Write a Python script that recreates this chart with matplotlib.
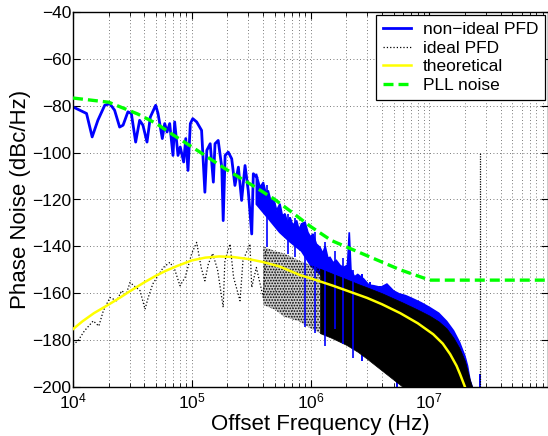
import matplotlib
matplotlib.use("Agg")
import matplotlib.pyplot as plt
import numpy as np

plt.rcParams["font.family"] = ["Liberation Sans", "DejaVu Sans"]
plt.rcParams["mathtext.fontset"] = "custom"
plt.rcParams["mathtext.rm"] = "Liberation Sans"
plt.rcParams["hatch.color"] = "black"
plt.rcParams["hatch.linewidth"] = 0.8

# non-ideal PFD, low-frequency part of the trace
blue_f = [1.0e4, 1.3e4, 1.45e4, 1.62e4, 1.85e4, 2.04e4, 2.24e4, 2.47e4, 2.64e4,
          2.9e4, 3.1e4, 3.37e4, 3.64e4, 3.88e4, 4.2e4, 4.48e4, 4.97e4, 5.2e4,
          5.65e4, 5.92e4, 6.19e4, 6.52e4, 6.95e4, 7.18e4, 7.66e4, 8.0e4, 8.55e4,
          8.9e4, 9.3e4, 9.73e4, 1.02e5, 1.1e5, 1.21e5, 1.29e5, 1.34e5, 1.43e5,
          1.52e5, 1.57e5, 1.67e5, 1.79e5, 1.84e5, 1.91e5, 2.03e5, 2.17e5, 2.31e5,
          2.47e5, 2.63e5, 2.81e5, 2.99e5, 3.2e5, 3.3e5, 3.52e5]
blue_db = [-80.5, -83.3, -93.3, -86.2, -79.8, -79.1, -81.9, -89.1, -88.3,
           -82.6, -83.3, -95.5, -86.2, -88.3, -95.5, -84.8, -79.8, -83.3,
           -94.0, -87.6, -91.2, -87.6, -101.2, -86.9, -101.2, -97.6, -104.0,
           -94.0, -107.6, -87.6, -85.5, -86.9, -90.5, -116.9, -99.0, -96.2,
           -112.6, -96.2, -94.8, -106.2, -129.0, -101.2, -99.8, -102.6, -114.0,
           -106.2, -120.4, -105.5, -116.2, -134.7, -109.0, -110.5]

# non-ideal PFD, dense part: upper edge
blue_hi_f = [3.5e5, 3.76e5, 4.01e5, 4.2e5, 4.41e5, 4.65e5, 4.86e5, 5.19e5, 5.53e5,
             5.8e5, 6.1e5, 6.4e5, 6.72e5, 7.1e5, 7.65e5, 8.0e5, 8.4e5, 9.0e5,
             9.5e5, 1.0e6, 1.05e6, 1.12e6, 1.2e6, 1.27e6, 1.33e6, 1.4e6, 1.46e6,
             1.55e6, 1.65e6, 1.78e6, 1.9e6, 2.05e6, 2.12e6, 2.19e6, 2.35e6,
             2.5e6, 2.8e6, 3.1e6, 3.4e6, 3.9e6, 4.4e6, 5.0e6, 5.6e6, 6.3e6,
             7.0e6, 8.5e6, 1.0e7, 1.2e7, 1.4e7, 1.6e7, 1.8e7, 2.0e7, 2.1e7,
             2.2e7, 2.3e7]
blue_hi = [-109.0, -114.7, -112.6, -117.0, -116.2, -121.0, -119.0, -124.7,
           -121.8, -127.0, -126.1, -130.0, -127.6, -131.0, -129.0, -133.0,
           -130.4, -129.7, -134.0, -136.0, -134.7, -139.0, -140.4, -143.0,
           -140.0, -145.0, -144.7, -147.0, -146.0, -148.2, -149.0, -148.0,
           -134.0, -150.0, -153.0, -152.0, -153.9, -156.5, -156.8, -157.5,
           -156.1, -159.0, -160.3, -161.0, -162.0, -164.0, -166.0, -168.5,
           -172.0, -176.0, -181.0, -187.0, -191.0, -197.0, -200.0]
# non-ideal PFD, dense part: lower edge
blue_lo_f = [3.5e5, 4.4e5, 5.5e5, 6.7e5, 8.4e5, 1.0e6, 1.33e6, 1.6e6, 2.0e6,
             2.5e6, 3.4e6, 4.4e6, 5.6e6, 7.0e6, 8.5e6, 1.0e7, 2.3e7]
blue_lo = [-122.0, -128.0, -134.0, -138.0, -142.0, -148.0, -154.0, -158.0,
           -162.0, -166.0, -172.0, -178.0, -184.0, -190.0, -195.0, -200.0,
           -200.0]

# non-ideal PFD, isolated spikes
spike_f = [4.28e5, 6.5e5, 7.4e5, 9.0e5, 1.09e6, 1.32e6, 1.6e6, 1.89e6, 2.27e6,
           2.7e6, 3.2e6, 3.85e6, 4.65e6, 5.3e6, 6.4e6, 8.1e6, 9.8e6, 2.67e7]
spike_top = [-114.0, -126.0, -128.0, -130.0, -134.0, -138.0, -142.0, -145.0,
             -150.0, -152.0, -155.0, -157.0, -159.0, -161.0, -163.0, -165.0,
             -168.0, -194.6]
spike_bot = [-140.4, -143.3, -144.7, -174.6, -176.8, -182.5, -175.3, -181.7,
             -187.5, -188.9, -187.5, -191.7, -193.2, -200.0, -199.0, -200.0,
             -200.0, -200.0]

# ideal PFD, low-frequency part
ideal_f = [1.0e4, 1.1e4, 1.25e4, 1.48e4, 1.65e4, 1.8e4, 2.05e4, 2.33e4, 2.57e4,
           2.8e4, 3.02e4, 3.3e4, 3.67e4, 4.04e4, 4.3e4, 4.7e4, 5.1e4, 5.76e4,
           6.55e4, 7.2e4, 7.96e4, 8.8e4, 9.97e4, 1.1e5, 1.2e5, 1.29e5, 1.38e5,
           1.5e5, 1.65e5, 1.84e5, 1.9e5, 2.1e5, 2.25e5, 2.55e5, 2.7e5, 3.09e5,
           3.2e5, 3.5e5, 4.0e5, 4.2e5]
ideal_db = [-182.0, -180.3, -176.0, -171.8, -174.0, -167.5, -161.8, -163.2,
            -158.9, -160.5, -155.4, -157.0, -158.9, -166.8, -161.8, -156.0,
            -153.2, -149.0, -146.8, -150.0, -156.8, -153.2, -143.2, -138.3,
            -149.0, -154.7, -147.5, -143.0, -150.0, -166.0, -146.1, -139.0,
            -153.2, -163.2, -146.1, -139.0, -157.5, -149.0, -161.8, -142.0]

# ideal PFD, dense part (envelopes)
iband_f = [4.0e5, 5.0e5, 6.0e5, 8.0e5, 1.0e6, 1.2e6, 1.5e6, 2.0e6, 2.5e6, 3.0e6,
           4.0e6, 6.0e6, 8.0e6, 1.0e7, 1.2e7, 1.4e7, 1.6e7, 1.8e7, 2.0e7, 2.2e7,
           2.3e7]
ideal_hi = [-140.0, -142.0, -143.0, -146.0, -148.0, -149.5, -151.5, -154.0,
            -156.0, -157.5, -160.0, -164.0, -167.0, -169.5, -172.0, -175.0,
            -179.0, -183.5, -189.0, -197.0, -200.0]
ideal_lo = [-165.0, -167.0, -170.0, -172.0, -175.0, -177.0, -179.0, -182.0,
            -185.0, -188.0, -193.0, -200.0, -200.0, -200.0, -200.0, -200.0,
            -200.0, -200.0, -200.0, -200.0, -200.0]
ideal_spike_f = 2.67e7
ideal_spike_top = -100.0

# theoretical
theo_f = [1.0e4, 1.2e4, 1.5e4, 2.0e4, 2.5e4, 3.0e4, 4.0e4, 5.0e4, 6.0e4, 7.5e4,
          1.0e5, 1.3e5, 1.7e5, 2.2e5, 3.0e5, 4.0e5, 5.5e5, 8.2e5, 1.0e6, 1.55e6,
          2.0e6, 3.0e6, 4.0e6, 5.7e6, 8.0e6, 1.08e7, 1.3e7, 1.5e7, 1.7e7,
          1.82e7, 2.0e7]
theo_db = [-175.3, -172.0, -168.5, -164.8, -161.8, -159.2, -155.3, -152.5,
           -150.5, -148.4, -146.0, -144.8, -144.3, -144.5, -145.4, -146.7,
           -148.6, -152.3, -153.6, -156.8, -158.8, -162.0, -164.7, -168.5,
           -172.8, -177.5, -181.5, -186.0, -191.0, -194.6, -200.0]

# PLL noise
pll_f = [1.0e4, 2.0e4, 3.5e4, 5.0e4, 7.0e4, 1.0e5, 2.0e5, 3.5e5, 5.0e5, 7.0e5,
         1.0e6, 1.5e6, 3.0e6, 5.7e6, 9.6e6, 1.0e7, 1.0e8]
pll_db = [-76.7, -78.5, -83.5, -87.5, -92.5, -97.5, -107.5, -115.0, -120.0,
          -125.5, -131.5, -137.5, -144.0, -150.0, -154.0, -154.4, -154.4]

fig = plt.figure(figsize=(5.48, 4.36), dpi=100)
ax = fig.add_axes([73 / 548, 49 / 436, 475 / 548, 375 / 436])

# non-ideal PFD
ax.plot(blue_f, blue_db, color="blue", lw=2.0, label="non\u2212ideal PFD", zorder=2)
ax.fill(np.r_[blue_hi_f, blue_lo_f[::-1]], np.r_[blue_hi, blue_lo[::-1]],
        color="blue", lw=1.2, zorder=2)
sf = np.array(spike_f)
st = np.array(spike_top)
sb = np.array(spike_bot)
low = sf <= 2.3e6
ax.vlines(sf[~low], sb[~low], st[~low], color="blue", lw=1.4, zorder=2)

# ideal PFD
ax.plot(ideal_f, ideal_db, color="black", ls=":", lw=0.9, label="ideal PFD", zorder=3)
ibf = np.array(iband_f)
sparse = ibf <= 1.2e6
dense = ibf >= 1.2e6
ax.fill_between(ibf[sparse], np.array(ideal_lo)[sparse], np.array(ideal_hi)[sparse],
                facecolor=(0, 0, 0, 0.2), edgecolor="black", lw=0, hatch="......",
                zorder=3)
ax.fill_between(ibf[dense], np.array(ideal_lo)[dense], np.array(ideal_hi)[dense],
                color="black", lw=0.5, zorder=3)
ax.vlines([ideal_spike_f], -200, ideal_spike_top, color="black", ls=(0, (1, 1)),
          lw=0.9, zorder=3)

# lower-frequency blue spikes show through the black mass
ax.vlines(sf[low], sb[low], st[low], color="blue", lw=1.2, zorder=3.5)

ax.plot(theo_f, theo_db, color="yellow", lw=1.8, label="theoretical", zorder=4)
ax.plot(pll_f, pll_db, color="#00ff00", lw=2.4, ls=(0, (3, 1.5)),
        label="PLL noise", zorder=5)

ax.set_xscale("log")
ax.set_xlim(1e4, 1e8)
ax.set_ylim(-200, -40)
ax.set_xticks([1e4, 1e5, 1e6, 1e7])
ax.set_yticks(np.arange(-200, -39, 20))
ax.tick_params(which="both", direction="in", top=True, right=True, labelsize=12.5, pad=3)
ax.tick_params(which="major", length=5)
ax.tick_params(which="minor", length=3)
ax.tick_params(axis="y", pad=1)
ax.grid(True, which="both", axis="x", ls=(0, (1, 3)), color="0.3", lw=0.6)
ax.grid(True, which="major", axis="y", ls=(0, (1, 3)), color="0.3", lw=0.6)
ax.set_axisbelow(True)
for s in ax.spines.values():
    s.set_linewidth(1.0)

ax.set_xlabel("Offset Frequency (Hz)", fontsize=16)
ax.set_ylabel("Phase Noise (dBc/Hz)", fontsize=16, labelpad=1)
ax.xaxis.set_label_coords(0.52, -0.073)

leg = ax.legend(loc="upper right", bbox_to_anchor=(0.994, 0.992), borderaxespad=0,
                fontsize=12.5, handlelength=1.65, handletextpad=0.65,
                labelspacing=0.2, fancybox=False, framealpha=1, edgecolor="black",
                borderpad=0.4)
leg.get_frame().set_linewidth(0.9)

fig.savefig("out.png", dpi=100)
